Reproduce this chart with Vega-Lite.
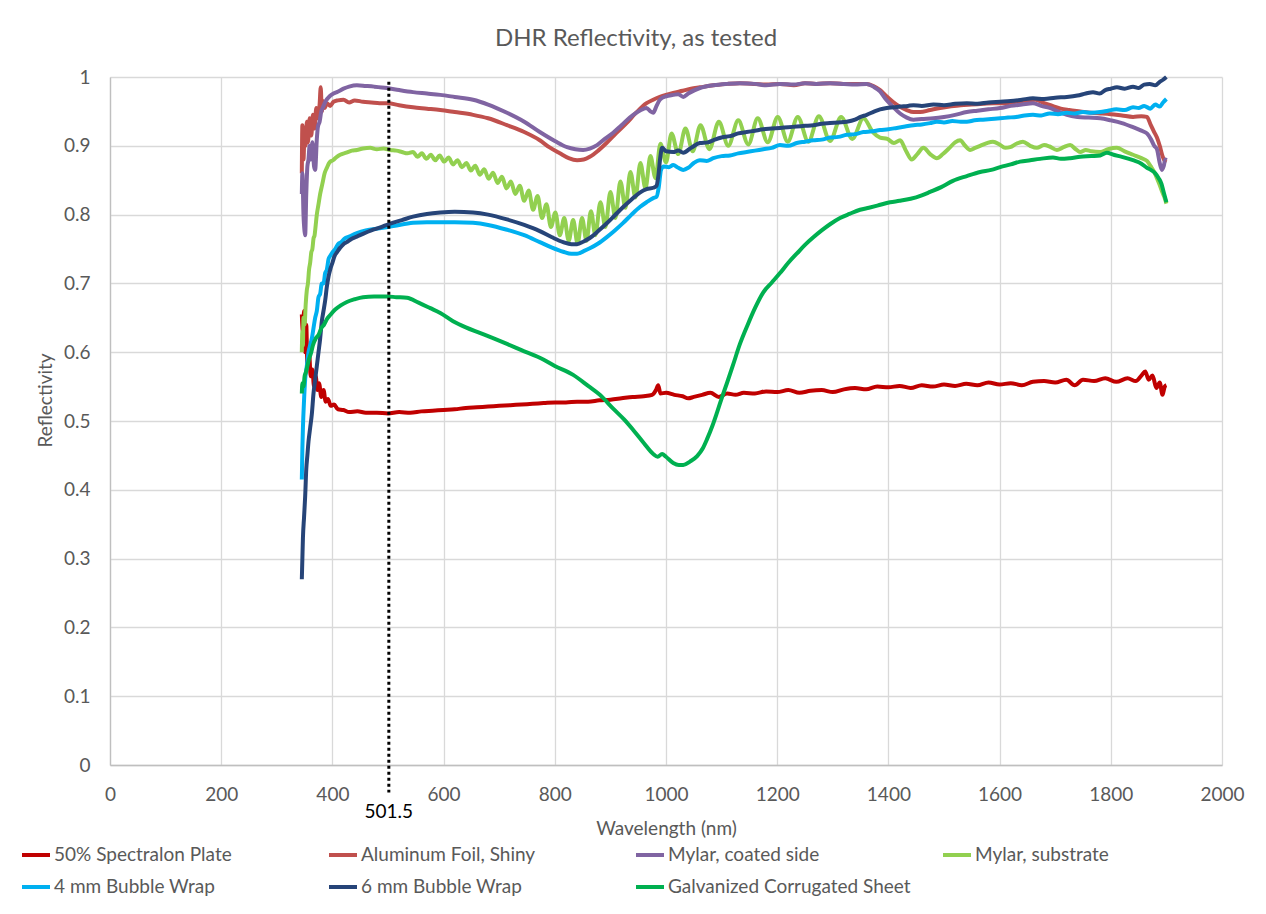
{
  "$schema": "https://vega.github.io/schema/vega-lite/v6.json",
  "width": 1112,
  "height": 688,
  "autosize": {"type": "none"},
  "padding": {"left": 110, "top": 77, "right": 44, "bottom": 149},
  "background": "white",
  "title": {"text": "DHR Reflectivity, as tested", "anchor": "middle", "dx": -30, "offset": 17, "font": "Lato", "fontSize": 24, "fontWeight": "normal", "color": "#595959"},
  "config": {"view": {"stroke": null}},
  "datasets": {
    "names": [
      {"k": "S", "name": "50% Spectralon Plate"},
      {"k": "A", "name": "Aluminum Foil, Shiny"},
      {"k": "M", "name": "Mylar, coated side"},
      {"k": "U", "name": "Mylar, substrate"},
      {"k": "B4", "name": "4 mm Bubble Wrap"},
      {"k": "B6", "name": "6 mm Bubble Wrap"},
      {"k": "G", "name": "Galvanized Corrugated Sheet"}
    ],
    "marker": [{"w": 501.5, "top": 0.993, "bot": -0.04, "lab": -0.068}],
    "spectra": [
      {"k":"S","w":345,"r":0.655},{"k":"S","w":347,"r":0.63},{"k":"S","w":349,"r":0.66},{"k":"S","w":351,"r":0.6},{"k":"S","w":353,"r":0.64},{"k":"S","w":355,"r":0.58},{"k":"S","w":358,"r":0.6},{"k":"S","w":361,"r":0.565},{"k":"S","w":364,"r":0.575},{"k":"S","w":367,"r":0.55},{"k":"S","w":370,"r":0.565},{"k":"S","w":373,"r":0.545},{"k":"S","w":376,"r":0.555},{"k":"S","w":380,"r":0.535},{"k":"S","w":384,"r":0.545},{"k":"S","w":388,"r":0.528},{"k":"S","w":392,"r":0.532},{"k":"S","w":397,"r":0.522},{"k":"S","w":403,"r":0.524},{"k":"S","w":410,"r":0.517},{"k":"S","w":420,"r":0.516},{"k":"S","w":430,"r":0.513},{"k":"S","w":445,"r":0.514},{"k":"S","w":460,"r":0.512},{"k":"S","w":480,"r":0.512},{"k":"S","w":500,"r":0.511},{"k":"S","w":520,"r":0.513},{"k":"S","w":540,"r":0.512},{"k":"S","w":560,"r":0.514},{"k":"S","w":580,"r":0.515},{"k":"S","w":600,"r":0.516},{"k":"S","w":620,"r":0.517},{"k":"S","w":640,"r":0.519},{"k":"S","w":660,"r":0.52},{"k":"S","w":680,"r":0.521},{"k":"S","w":700,"r":0.522},{"k":"S","w":720,"r":0.523},{"k":"S","w":740,"r":0.524},{"k":"S","w":760,"r":0.525},{"k":"S","w":780,"r":0.526},{"k":"S","w":800,"r":0.527},{"k":"S","w":820,"r":0.527},{"k":"S","w":840,"r":0.528},{"k":"S","w":860,"r":0.528},{"k":"S","w":880,"r":0.53},{"k":"S","w":900,"r":0.531},{"k":"S","w":920,"r":0.533},{"k":"S","w":940,"r":0.535},{"k":"S","w":960,"r":0.536},{"k":"S","w":975,"r":0.538},{"k":"S","w":982,"r":0.545},{"k":"S","w":986,"r":0.552},{"k":"S","w":990,"r":0.54},{"k":"S","w":1000,"r":0.541},{"k":"S","w":1015,"r":0.538},{"k":"S","w":1030,"r":0.536},{"k":"S","w":1040,"r":0.533},{"k":"S","w":1050,"r":0.535},{"k":"S","w":1065,"r":0.538},{"k":"S","w":1080,"r":0.541},{"k":"S","w":1095,"r":0.535},{"k":"S","w":1110,"r":0.54},{"k":"S","w":1125,"r":0.538},{"k":"S","w":1140,"r":0.541},{"k":"S","w":1160,"r":0.54},{"k":"S","w":1180,"r":0.543},{"k":"S","w":1200,"r":0.542},{"k":"S","w":1220,"r":0.545},{"k":"S","w":1240,"r":0.541},{"k":"S","w":1260,"r":0.544},{"k":"S","w":1280,"r":0.545},{"k":"S","w":1300,"r":0.542},{"k":"S","w":1320,"r":0.546},{"k":"S","w":1340,"r":0.548},{"k":"S","w":1360,"r":0.546},{"k":"S","w":1380,"r":0.55},{"k":"S","w":1400,"r":0.549},{"k":"S","w":1420,"r":0.551},{"k":"S","w":1440,"r":0.548},{"k":"S","w":1460,"r":0.552},{"k":"S","w":1480,"r":0.55},{"k":"S","w":1500,"r":0.553},{"k":"S","w":1520,"r":0.551},{"k":"S","w":1540,"r":0.554},{"k":"S","w":1560,"r":0.552},{"k":"S","w":1580,"r":0.556},{"k":"S","w":1600,"r":0.553},{"k":"S","w":1620,"r":0.555},{"k":"S","w":1640,"r":0.552},{"k":"S","w":1660,"r":0.557},{"k":"S","w":1680,"r":0.558},{"k":"S","w":1700,"r":0.556},{"k":"S","w":1720,"r":0.56},{"k":"S","w":1735,"r":0.552},{"k":"S","w":1750,"r":0.56},{"k":"S","w":1770,"r":0.558},{"k":"S","w":1790,"r":0.562},{"k":"S","w":1810,"r":0.557},{"k":"S","w":1830,"r":0.562},{"k":"S","w":1845,"r":0.558},{"k":"S","w":1855,"r":0.566},{"k":"S","w":1862,"r":0.572},{"k":"S","w":1868,"r":0.56},{"k":"S","w":1875,"r":0.566},{"k":"S","w":1882,"r":0.548},{"k":"S","w":1888,"r":0.556},{"k":"S","w":1893,"r":0.538},{"k":"S","w":1897,"r":0.55},{"k":"S","w":1900,"r":0.552},

      {"k":"A","w":345,"r":0.86},{"k":"A","w":346,"r":0.93},{"k":"A","w":348,"r":0.88},{"k":"A","w":350,"r":0.92},{"k":"A","w":352,"r":0.9},{"k":"A","w":354,"r":0.935},{"k":"A","w":356,"r":0.905},{"k":"A","w":359,"r":0.94},{"k":"A","w":362,"r":0.915},{"k":"A","w":365,"r":0.945},{"k":"A","w":368,"r":0.925},{"k":"A","w":371,"r":0.955},{"k":"A","w":374,"r":0.94},{"k":"A","w":377,"r":0.96},{"k":"A","w":379,"r":0.985},{"k":"A","w":381,"r":0.95},{"k":"A","w":383,"r":0.965},{"k":"A","w":386,"r":0.955},{"k":"A","w":390,"r":0.962},{"k":"A","w":396,"r":0.958},{"k":"A","w":402,"r":0.964},{"k":"A","w":410,"r":0.966},{"k":"A","w":420,"r":0.967},{"k":"A","w":430,"r":0.963},{"k":"A","w":440,"r":0.966},{"k":"A","w":455,"r":0.964},{"k":"A","w":470,"r":0.963},{"k":"A","w":485,"r":0.962},{"k":"A","w":500,"r":0.962},{"k":"A","w":520,"r":0.959},{"k":"A","w":545,"r":0.956},{"k":"A","w":570,"r":0.954},{"k":"A","w":594,"r":0.952},{"k":"A","w":620,"r":0.949},{"k":"A","w":653,"r":0.945},{"k":"A","w":680,"r":0.94},{"k":"A","w":714,"r":0.93},{"k":"A","w":745,"r":0.92},{"k":"A","w":773,"r":0.908},{"k":"A","w":790,"r":0.898},{"k":"A","w":809,"r":0.889},{"k":"A","w":825,"r":0.882},{"k":"A","w":840,"r":0.879},{"k":"A","w":852,"r":0.88},{"k":"A","w":863,"r":0.884},{"k":"A","w":878,"r":0.893},{"k":"A","w":893,"r":0.904},{"k":"A","w":910,"r":0.918},{"k":"A","w":929,"r":0.933},{"k":"A","w":945,"r":0.947},{"k":"A","w":965,"r":0.962},{"k":"A","w":977,"r":0.967},{"k":"A","w":989,"r":0.971},{"k":"A","w":1000,"r":0.974},{"k":"A","w":1013,"r":0.977},{"k":"A","w":1030,"r":0.98},{"k":"A","w":1045,"r":0.983},{"k":"A","w":1061,"r":0.985},{"k":"A","w":1085,"r":0.988},{"k":"A","w":1110,"r":0.99},{"k":"A","w":1133,"r":0.991},{"k":"A","w":1160,"r":0.99},{"k":"A","w":1180,"r":0.989},{"k":"A","w":1205,"r":0.99},{"k":"A","w":1230,"r":0.988},{"k":"A","w":1250,"r":0.991},{"k":"A","w":1270,"r":0.99},{"k":"A","w":1295,"r":0.991},{"k":"A","w":1320,"r":0.99},{"k":"A","w":1340,"r":0.99},{"k":"A","w":1361,"r":0.99},{"k":"A","w":1373,"r":0.987},{"k":"A","w":1385,"r":0.981},{"k":"A","w":1395,"r":0.973},{"k":"A","w":1408,"r":0.964},{"k":"A","w":1420,"r":0.957},{"k":"A","w":1433,"r":0.952},{"k":"A","w":1445,"r":0.949},{"k":"A","w":1457,"r":0.949},{"k":"A","w":1475,"r":0.952},{"k":"A","w":1493,"r":0.955},{"k":"A","w":1510,"r":0.957},{"k":"A","w":1530,"r":0.959},{"k":"A","w":1550,"r":0.96},{"k":"A","w":1570,"r":0.961},{"k":"A","w":1590,"r":0.962},{"k":"A","w":1610,"r":0.962},{"k":"A","w":1630,"r":0.964},{"k":"A","w":1650,"r":0.966},{"k":"A","w":1665,"r":0.967},{"k":"A","w":1680,"r":0.962},{"k":"A","w":1695,"r":0.958},{"k":"A","w":1710,"r":0.954},{"k":"A","w":1725,"r":0.952},{"k":"A","w":1745,"r":0.95},{"k":"A","w":1765,"r":0.948},{"k":"A","w":1785,"r":0.947},{"k":"A","w":1800,"r":0.946},{"k":"A","w":1820,"r":0.944},{"k":"A","w":1840,"r":0.942},{"k":"A","w":1855,"r":0.943},{"k":"A","w":1865,"r":0.942},{"k":"A","w":1872,"r":0.93},{"k":"A","w":1878,"r":0.92},{"k":"A","w":1883,"r":0.912},{"k":"A","w":1888,"r":0.9},{"k":"A","w":1893,"r":0.885},{"k":"A","w":1897,"r":0.878},{"k":"A","w":1900,"r":0.876},

      {"k":"M","w":345,"r":0.83},{"k":"M","w":346,"r":0.86},{"k":"M","w":348,"r":0.8},{"k":"M","w":350,"r":0.775},{"k":"M","w":351,"r":0.77},{"k":"M","w":353,"r":0.83},{"k":"M","w":355,"r":0.87},{"k":"M","w":357,"r":0.88},{"k":"M","w":359,"r":0.9},{"k":"M","w":361,"r":0.88},{"k":"M","w":364,"r":0.905},{"k":"M","w":367,"r":0.87},{"k":"M","w":369,"r":0.865},{"k":"M","w":372,"r":0.91},{"k":"M","w":374,"r":0.928},{"k":"M","w":377,"r":0.935},{"k":"M","w":380,"r":0.95},{"k":"M","w":383,"r":0.956},{"k":"M","w":388,"r":0.965},{"k":"M","w":395,"r":0.972},{"k":"M","w":402,"r":0.976},{"k":"M","w":408,"r":0.978},{"k":"M","w":420,"r":0.983},{"k":"M","w":430,"r":0.986},{"k":"M","w":444,"r":0.988},{"k":"M","w":460,"r":0.987},{"k":"M","w":475,"r":0.986},{"k":"M","w":498,"r":0.984},{"k":"M","w":520,"r":0.981},{"k":"M","w":545,"r":0.978},{"k":"M","w":570,"r":0.976},{"k":"M","w":594,"r":0.974},{"k":"M","w":620,"r":0.971},{"k":"M","w":653,"r":0.967},{"k":"M","w":680,"r":0.96},{"k":"M","w":714,"r":0.948},{"k":"M","w":745,"r":0.935},{"k":"M","w":773,"r":0.92},{"k":"M","w":800,"r":0.907},{"k":"M","w":822,"r":0.898},{"k":"M","w":837,"r":0.895},{"k":"M","w":851,"r":0.894},{"k":"M","w":863,"r":0.896},{"k":"M","w":876,"r":0.901},{"k":"M","w":890,"r":0.91},{"k":"M","w":905,"r":0.919},{"k":"M","w":920,"r":0.93},{"k":"M","w":941,"r":0.945},{"k":"M","w":955,"r":0.952},{"k":"M","w":965,"r":0.955},{"k":"M","w":972,"r":0.95},{"k":"M","w":977,"r":0.948},{"k":"M","w":983,"r":0.958},{"k":"M","w":989,"r":0.967},{"k":"M","w":1000,"r":0.972},{"k":"M","w":1013,"r":0.974},{"k":"M","w":1022,"r":0.975},{"k":"M","w":1031,"r":0.971},{"k":"M","w":1040,"r":0.976},{"k":"M","w":1061,"r":0.984},{"k":"M","w":1085,"r":0.988},{"k":"M","w":1110,"r":0.99},{"k":"M","w":1133,"r":0.991},{"k":"M","w":1160,"r":0.99},{"k":"M","w":1180,"r":0.988},{"k":"M","w":1205,"r":0.99},{"k":"M","w":1230,"r":0.989},{"k":"M","w":1250,"r":0.991},{"k":"M","w":1270,"r":0.99},{"k":"M","w":1295,"r":0.991},{"k":"M","w":1320,"r":0.99},{"k":"M","w":1340,"r":0.989},{"k":"M","w":1361,"r":0.99},{"k":"M","w":1373,"r":0.986},{"k":"M","w":1385,"r":0.979},{"k":"M","w":1395,"r":0.968},{"k":"M","w":1408,"r":0.957},{"k":"M","w":1421,"r":0.947},{"k":"M","w":1433,"r":0.941},{"k":"M","w":1445,"r":0.938},{"k":"M","w":1460,"r":0.939},{"k":"M","w":1481,"r":0.94},{"k":"M","w":1500,"r":0.942},{"k":"M","w":1520,"r":0.945},{"k":"M","w":1541,"r":0.949},{"k":"M","w":1560,"r":0.951},{"k":"M","w":1580,"r":0.953},{"k":"M","w":1601,"r":0.955},{"k":"M","w":1620,"r":0.958},{"k":"M","w":1640,"r":0.96},{"k":"M","w":1660,"r":0.962},{"k":"M","w":1675,"r":0.958},{"k":"M","w":1690,"r":0.955},{"k":"M","w":1705,"r":0.95},{"k":"M","w":1721,"r":0.945},{"k":"M","w":1740,"r":0.942},{"k":"M","w":1760,"r":0.941},{"k":"M","w":1781,"r":0.94},{"k":"M","w":1800,"r":0.937},{"k":"M","w":1820,"r":0.933},{"k":"M","w":1840,"r":0.927},{"k":"M","w":1855,"r":0.922},{"k":"M","w":1865,"r":0.918},{"k":"M","w":1872,"r":0.91},{"k":"M","w":1878,"r":0.9},{"k":"M","w":1883,"r":0.895},{"k":"M","w":1888,"r":0.875},{"k":"M","w":1892,"r":0.865},{"k":"M","w":1895,"r":0.87},{"k":"M","w":1898,"r":0.88},{"k":"M","w":1900,"r":0.879},

      {"k":"U","w":345,"r":0.6},{"k":"U","w":346,"r":0.63},{"k":"U","w":347,"r":0.61},{"k":"U","w":348,"r":0.65},{"k":"U","w":350,"r":0.64},{"k":"U","w":352,"r":0.67},{"k":"U","w":354,"r":0.69},{"k":"U","w":356,"r":0.7},{"k":"U","w":358,"r":0.72},{"k":"U","w":360,"r":0.73},{"k":"U","w":362,"r":0.745},{"k":"U","w":364,"r":0.75},{"k":"U","w":366,"r":0.765},{"k":"U","w":368,"r":0.77},{"k":"U","w":370,"r":0.785},{"k":"U","w":372,"r":0.8},{"k":"U","w":375,"r":0.815},{"k":"U","w":378,"r":0.83},{"k":"U","w":382,"r":0.845},{"k":"U","w":386,"r":0.86},{"k":"U","w":390,"r":0.868},{"k":"U","w":395,"r":0.876},{"k":"U","w":401,"r":0.879},{"k":"U","w":408,"r":0.884},{"k":"U","w":414,"r":0.887},{"k":"U","w":425,"r":0.89},{"k":"U","w":435,"r":0.893},{"k":"U","w":444,"r":0.894},{"k":"U","w":455,"r":0.896},{"k":"U","w":468,"r":0.897},{"k":"U","w":480,"r":0.895},{"k":"U","w":492,"r":0.896},{"k":"U","w":504,"r":0.894},{"k":"U","w":515,"r":0.893},{"k":"U","w":525,"r":0.891},{"k":"U","w":535,"r":0.889},{"k":"U","w":545,"r":0.891},{"k":"U","w":553,"r":0.884},{"k":"U","w":561,"r":0.889},{"k":"U","w":569,"r":0.881},{"k":"U","w":577,"r":0.887},{"k":"U","w":585,"r":0.879},{"k":"U","w":593,"r":0.886},{"k":"U","w":601,"r":0.877},{"k":"U","w":609,"r":0.883},{"k":"U","w":617,"r":0.873},{"k":"U","w":625,"r":0.879},{"k":"U","w":633,"r":0.869},{"k":"U","w":641,"r":0.875},{"k":"U","w":649,"r":0.864},{"k":"U","w":657,"r":0.871},{"k":"U","w":665,"r":0.858},{"k":"U","w":673,"r":0.866},{"k":"U","w":681,"r":0.852},{"k":"U","w":689,"r":0.861},{"k":"U","w":697,"r":0.846},{"k":"U","w":705,"r":0.855},{"k":"U","w":713,"r":0.838},{"k":"U","w":721,"r":0.848},{"k":"U","w":729,"r":0.83},{"k":"U","w":737,"r":0.842},{"k":"U","w":745,"r":0.82},{"k":"U","w":753,"r":0.835},{"k":"U","w":761,"r":0.807},{"k":"U","w":769,"r":0.827},{"k":"U","w":777,"r":0.795},{"k":"U","w":785,"r":0.815},{"k":"U","w":793,"r":0.782},{"k":"U","w":801,"r":0.803},{"k":"U","w":809,"r":0.77},{"k":"U","w":817,"r":0.795},{"k":"U","w":825,"r":0.762},{"k":"U","w":833,"r":0.792},{"k":"U","w":841,"r":0.758},{"k":"U","w":849,"r":0.795},{"k":"U","w":857,"r":0.762},{"k":"U","w":865,"r":0.805},{"k":"U","w":873,"r":0.77},{"k":"U","w":882,"r":0.818},{"k":"U","w":891,"r":0.782},{"k":"U","w":900,"r":0.833},{"k":"U","w":909,"r":0.795},{"k":"U","w":918,"r":0.848},{"k":"U","w":927,"r":0.81},{"k":"U","w":936,"r":0.862},{"k":"U","w":945,"r":0.825},{"k":"U","w":954,"r":0.875},{"k":"U","w":963,"r":0.838},{"k":"U","w":972,"r":0.885},{"k":"U","w":981,"r":0.853},{"k":"U","w":990,"r":0.903},{"k":"U","w":1000,"r":0.876},{"k":"U","w":1010,"r":0.918},{"k":"U","w":1022,"r":0.888},{"k":"U","w":1035,"r":0.925},{"k":"U","w":1048,"r":0.892},{"k":"U","w":1062,"r":0.93},{"k":"U","w":1078,"r":0.895},{"k":"U","w":1095,"r":0.935},{"k":"U","w":1112,"r":0.9},{"k":"U","w":1130,"r":0.937},{"k":"U","w":1148,"r":0.902},{"k":"U","w":1165,"r":0.94},{"k":"U","w":1183,"r":0.905},{"k":"U","w":1201,"r":0.942},{"k":"U","w":1219,"r":0.906},{"k":"U","w":1237,"r":0.942},{"k":"U","w":1256,"r":0.906},{"k":"U","w":1275,"r":0.943},{"k":"U","w":1295,"r":0.907},{"k":"U","w":1315,"r":0.942},{"k":"U","w":1335,"r":0.91},{"k":"U","w":1355,"r":0.94},{"k":"U","w":1372,"r":0.92},{"k":"U","w":1385,"r":0.912},{"k":"U","w":1398,"r":0.91},{"k":"U","w":1410,"r":0.904},{"k":"U","w":1421,"r":0.908},{"k":"U","w":1432,"r":0.892},{"k":"U","w":1442,"r":0.88},{"k":"U","w":1452,"r":0.888},{"k":"U","w":1463,"r":0.897},{"k":"U","w":1475,"r":0.888},{"k":"U","w":1487,"r":0.882},{"k":"U","w":1498,"r":0.888},{"k":"U","w":1510,"r":0.897},{"k":"U","w":1520,"r":0.905},{"k":"U","w":1529,"r":0.908},{"k":"U","w":1538,"r":0.9},{"k":"U","w":1547,"r":0.894},{"k":"U","w":1556,"r":0.897},{"k":"U","w":1565,"r":0.9},{"k":"U","w":1577,"r":0.904},{"k":"U","w":1588,"r":0.906},{"k":"U","w":1600,"r":0.902},{"k":"U","w":1610,"r":0.897},{"k":"U","w":1619,"r":0.898},{"k":"U","w":1630,"r":0.903},{"k":"U","w":1642,"r":0.906},{"k":"U","w":1655,"r":0.9},{"k":"U","w":1667,"r":0.897},{"k":"U","w":1680,"r":0.901},{"k":"U","w":1690,"r":0.899},{"k":"U","w":1703,"r":0.894},{"k":"U","w":1715,"r":0.898},{"k":"U","w":1727,"r":0.901},{"k":"U","w":1737,"r":0.895},{"k":"U","w":1745,"r":0.891},{"k":"U","w":1755,"r":0.894},{"k":"U","w":1765,"r":0.892},{"k":"U","w":1781,"r":0.891},{"k":"U","w":1795,"r":0.895},{"k":"U","w":1811,"r":0.897},{"k":"U","w":1825,"r":0.892},{"k":"U","w":1840,"r":0.887},{"k":"U","w":1855,"r":0.882},{"k":"U","w":1865,"r":0.878},{"k":"U","w":1872,"r":0.87},{"k":"U","w":1878,"r":0.862},{"k":"U","w":1883,"r":0.853},{"k":"U","w":1888,"r":0.843},{"k":"U","w":1893,"r":0.832},{"k":"U","w":1897,"r":0.824},{"k":"U","w":1900,"r":0.816},

      {"k":"B4","w":345,"r":0.415},{"k":"B4","w":346,"r":0.46},{"k":"B4","w":347,"r":0.49},{"k":"B4","w":349,"r":0.53},{"k":"B4","w":351,"r":0.56},{"k":"B4","w":354,"r":0.58},{"k":"B4","w":357,"r":0.6},{"k":"B4","w":360,"r":0.61},{"k":"B4","w":363,"r":0.62},{"k":"B4","w":366,"r":0.635},{"k":"B4","w":369,"r":0.65},{"k":"B4","w":372,"r":0.66},{"k":"B4","w":375,"r":0.68},{"k":"B4","w":378,"r":0.685},{"k":"B4","w":381,"r":0.7},{"k":"B4","w":384,"r":0.7},{"k":"B4","w":387,"r":0.715},{"k":"B4","w":390,"r":0.72},{"k":"B4","w":393,"r":0.735},{"k":"B4","w":396,"r":0.74},{"k":"B4","w":400,"r":0.745},{"k":"B4","w":405,"r":0.75},{"k":"B4","w":410,"r":0.757},{"k":"B4","w":416,"r":0.76},{"k":"B4","w":422,"r":0.765},{"k":"B4","w":430,"r":0.768},{"k":"B4","w":444,"r":0.773},{"k":"B4","w":460,"r":0.777},{"k":"B4","w":485,"r":0.78},{"k":"B4","w":500,"r":0.782},{"k":"B4","w":520,"r":0.785},{"k":"B4","w":545,"r":0.788},{"k":"B4","w":570,"r":0.789},{"k":"B4","w":594,"r":0.789},{"k":"B4","w":620,"r":0.789},{"k":"B4","w":653,"r":0.788},{"k":"B4","w":680,"r":0.785},{"k":"B4","w":714,"r":0.778},{"k":"B4","w":745,"r":0.77},{"k":"B4","w":773,"r":0.76},{"k":"B4","w":795,"r":0.752},{"k":"B4","w":815,"r":0.746},{"k":"B4","w":830,"r":0.743},{"k":"B4","w":840,"r":0.743},{"k":"B4","w":852,"r":0.747},{"k":"B4","w":863,"r":0.751},{"k":"B4","w":878,"r":0.758},{"k":"B4","w":893,"r":0.767},{"k":"B4","w":908,"r":0.777},{"k":"B4","w":923,"r":0.788},{"k":"B4","w":938,"r":0.8},{"k":"B4","w":953,"r":0.811},{"k":"B4","w":965,"r":0.818},{"k":"B4","w":977,"r":0.824},{"k":"B4","w":983,"r":0.826},{"k":"B4","w":987,"r":0.84},{"k":"B4","w":991,"r":0.865},{"k":"B4","w":996,"r":0.87},{"k":"B4","w":1005,"r":0.869},{"k":"B4","w":1013,"r":0.872},{"k":"B4","w":1022,"r":0.868},{"k":"B4","w":1031,"r":0.865},{"k":"B4","w":1040,"r":0.868},{"k":"B4","w":1050,"r":0.875},{"k":"B4","w":1061,"r":0.879},{"k":"B4","w":1073,"r":0.878},{"k":"B4","w":1085,"r":0.882},{"k":"B4","w":1100,"r":0.885},{"k":"B4","w":1115,"r":0.886},{"k":"B4","w":1130,"r":0.889},{"k":"B4","w":1145,"r":0.891},{"k":"B4","w":1160,"r":0.893},{"k":"B4","w":1175,"r":0.895},{"k":"B4","w":1190,"r":0.897},{"k":"B4","w":1205,"r":0.901},{"k":"B4","w":1220,"r":0.9},{"k":"B4","w":1235,"r":0.904},{"k":"B4","w":1250,"r":0.906},{"k":"B4","w":1265,"r":0.908},{"k":"B4","w":1280,"r":0.909},{"k":"B4","w":1295,"r":0.912},{"k":"B4","w":1310,"r":0.913},{"k":"B4","w":1325,"r":0.916},{"k":"B4","w":1340,"r":0.917},{"k":"B4","w":1355,"r":0.92},{"k":"B4","w":1370,"r":0.921},{"k":"B4","w":1385,"r":0.923},{"k":"B4","w":1400,"r":0.924},{"k":"B4","w":1415,"r":0.926},{"k":"B4","w":1430,"r":0.928},{"k":"B4","w":1445,"r":0.93},{"k":"B4","w":1460,"r":0.931},{"k":"B4","w":1475,"r":0.933},{"k":"B4","w":1487,"r":0.935},{"k":"B4","w":1500,"r":0.934},{"k":"B4","w":1515,"r":0.936},{"k":"B4","w":1530,"r":0.935},{"k":"B4","w":1541,"r":0.935},{"k":"B4","w":1555,"r":0.937},{"k":"B4","w":1570,"r":0.938},{"k":"B4","w":1585,"r":0.939},{"k":"B4","w":1601,"r":0.94},{"k":"B4","w":1615,"r":0.941},{"k":"B4","w":1630,"r":0.942},{"k":"B4","w":1645,"r":0.944},{"k":"B4","w":1660,"r":0.945},{"k":"B4","w":1675,"r":0.944},{"k":"B4","w":1690,"r":0.947},{"k":"B4","w":1705,"r":0.946},{"k":"B4","w":1721,"r":0.948},{"k":"B4","w":1735,"r":0.947},{"k":"B4","w":1750,"r":0.949},{"k":"B4","w":1765,"r":0.948},{"k":"B4","w":1781,"r":0.949},{"k":"B4","w":1795,"r":0.951},{"k":"B4","w":1810,"r":0.953},{"k":"B4","w":1825,"r":0.952},{"k":"B4","w":1840,"r":0.956},{"k":"B4","w":1850,"r":0.955},{"k":"B4","w":1860,"r":0.958},{"k":"B4","w":1871,"r":0.954},{"k":"B4","w":1880,"r":0.96},{"k":"B4","w":1888,"r":0.957},{"k":"B4","w":1894,"r":0.963},{"k":"B4","w":1900,"r":0.968},

      {"k":"B6","w":345,"r":0.27},{"k":"B6","w":346,"r":0.3},{"k":"B6","w":347,"r":0.33},{"k":"B6","w":349,"r":0.36},{"k":"B6","w":351,"r":0.39},{"k":"B6","w":353,"r":0.43},{"k":"B6","w":355,"r":0.45},{"k":"B6","w":357,"r":0.47},{"k":"B6","w":360,"r":0.49},{"k":"B6","w":363,"r":0.51},{"k":"B6","w":366,"r":0.54},{"k":"B6","w":369,"r":0.56},{"k":"B6","w":372,"r":0.58},{"k":"B6","w":375,"r":0.6},{"k":"B6","w":378,"r":0.62},{"k":"B6","w":381,"r":0.645},{"k":"B6","w":384,"r":0.66},{"k":"B6","w":387,"r":0.675},{"k":"B6","w":390,"r":0.695},{"k":"B6","w":393,"r":0.71},{"k":"B6","w":396,"r":0.72},{"k":"B6","w":400,"r":0.73},{"k":"B6","w":404,"r":0.74},{"k":"B6","w":408,"r":0.745},{"k":"B6","w":414,"r":0.752},{"k":"B6","w":420,"r":0.757},{"k":"B6","w":426,"r":0.76},{"k":"B6","w":435,"r":0.765},{"k":"B6","w":444,"r":0.768},{"k":"B6","w":455,"r":0.772},{"k":"B6","w":470,"r":0.777},{"k":"B6","w":485,"r":0.781},{"k":"B6","w":504,"r":0.787},{"k":"B6","w":525,"r":0.792},{"k":"B6","w":545,"r":0.797},{"k":"B6","w":570,"r":0.801},{"k":"B6","w":594,"r":0.803},{"k":"B6","w":620,"r":0.804},{"k":"B6","w":653,"r":0.803},{"k":"B6","w":680,"r":0.8},{"k":"B6","w":714,"r":0.793},{"k":"B6","w":745,"r":0.785},{"k":"B6","w":773,"r":0.776},{"k":"B6","w":795,"r":0.767},{"k":"B6","w":815,"r":0.76},{"k":"B6","w":830,"r":0.757},{"k":"B6","w":840,"r":0.757},{"k":"B6","w":852,"r":0.761},{"k":"B6","w":863,"r":0.766},{"k":"B6","w":878,"r":0.776},{"k":"B6","w":893,"r":0.787},{"k":"B6","w":908,"r":0.799},{"k":"B6","w":923,"r":0.811},{"k":"B6","w":938,"r":0.822},{"k":"B6","w":953,"r":0.832},{"k":"B6","w":965,"r":0.837},{"k":"B6","w":977,"r":0.839},{"k":"B6","w":983,"r":0.842},{"k":"B6","w":986,"r":0.855},{"k":"B6","w":990,"r":0.885},{"k":"B6","w":993,"r":0.897},{"k":"B6","w":1000,"r":0.892},{"k":"B6","w":1013,"r":0.891},{"k":"B6","w":1022,"r":0.893},{"k":"B6","w":1031,"r":0.89},{"k":"B6","w":1045,"r":0.897},{"k":"B6","w":1061,"r":0.904},{"k":"B6","w":1075,"r":0.905},{"k":"B6","w":1085,"r":0.908},{"k":"B6","w":1100,"r":0.912},{"k":"B6","w":1115,"r":0.914},{"k":"B6","w":1130,"r":0.918},{"k":"B6","w":1145,"r":0.92},{"k":"B6","w":1160,"r":0.922},{"k":"B6","w":1175,"r":0.924},{"k":"B6","w":1190,"r":0.925},{"k":"B6","w":1205,"r":0.926},{"k":"B6","w":1220,"r":0.927},{"k":"B6","w":1235,"r":0.928},{"k":"B6","w":1250,"r":0.929},{"k":"B6","w":1265,"r":0.93},{"k":"B6","w":1280,"r":0.932},{"k":"B6","w":1295,"r":0.933},{"k":"B6","w":1310,"r":0.934},{"k":"B6","w":1325,"r":0.935},{"k":"B6","w":1340,"r":0.938},{"k":"B6","w":1350,"r":0.942},{"k":"B6","w":1361,"r":0.945},{"k":"B6","w":1375,"r":0.95},{"k":"B6","w":1385,"r":0.953},{"k":"B6","w":1397,"r":0.955},{"k":"B6","w":1410,"r":0.956},{"k":"B6","w":1421,"r":0.957},{"k":"B6","w":1435,"r":0.958},{"k":"B6","w":1445,"r":0.959},{"k":"B6","w":1460,"r":0.958},{"k":"B6","w":1481,"r":0.96},{"k":"B6","w":1500,"r":0.959},{"k":"B6","w":1520,"r":0.961},{"k":"B6","w":1541,"r":0.962},{"k":"B6","w":1560,"r":0.961},{"k":"B6","w":1580,"r":0.963},{"k":"B6","w":1601,"r":0.964},{"k":"B6","w":1620,"r":0.965},{"k":"B6","w":1640,"r":0.967},{"k":"B6","w":1660,"r":0.969},{"k":"B6","w":1680,"r":0.968},{"k":"B6","w":1700,"r":0.97},{"k":"B6","w":1721,"r":0.971},{"k":"B6","w":1740,"r":0.973},{"k":"B6","w":1755,"r":0.976},{"k":"B6","w":1768,"r":0.978},{"k":"B6","w":1780,"r":0.976},{"k":"B6","w":1790,"r":0.981},{"k":"B6","w":1800,"r":0.983},{"k":"B6","w":1811,"r":0.985},{"k":"B6","w":1825,"r":0.983},{"k":"B6","w":1840,"r":0.986},{"k":"B6","w":1850,"r":0.984},{"k":"B6","w":1860,"r":0.989},{"k":"B6","w":1870,"r":0.99},{"k":"B6","w":1880,"r":0.988},{"k":"B6","w":1888,"r":0.993},{"k":"B6","w":1894,"r":0.996},{"k":"B6","w":1900,"r":1.0},

      {"k":"G","w":345,"r":0.54},{"k":"G","w":346,"r":0.555},{"k":"G","w":348,"r":0.55},{"k":"G","w":350,"r":0.565},{"k":"G","w":352,"r":0.57},{"k":"G","w":355,"r":0.58},{"k":"G","w":358,"r":0.59},{"k":"G","w":362,"r":0.6},{"k":"G","w":365,"r":0.61},{"k":"G","w":370,"r":0.62},{"k":"G","w":375,"r":0.625},{"k":"G","w":380,"r":0.635},{"k":"G","w":385,"r":0.64},{"k":"G","w":390,"r":0.648},{"k":"G","w":396,"r":0.654},{"k":"G","w":405,"r":0.662},{"k":"G","w":415,"r":0.668},{"k":"G","w":426,"r":0.673},{"k":"G","w":440,"r":0.677},{"k":"G","w":455,"r":0.68},{"k":"G","w":475,"r":0.681},{"k":"G","w":498,"r":0.681},{"k":"G","w":515,"r":0.68},{"k":"G","w":534,"r":0.679},{"k":"G","w":555,"r":0.672},{"k":"G","w":576,"r":0.664},{"k":"G","w":594,"r":0.657},{"k":"G","w":617,"r":0.645},{"k":"G","w":640,"r":0.636},{"k":"G","w":665,"r":0.628},{"k":"G","w":690,"r":0.62},{"k":"G","w":714,"r":0.612},{"k":"G","w":740,"r":0.603},{"k":"G","w":773,"r":0.592},{"k":"G","w":800,"r":0.58},{"k":"G","w":833,"r":0.567},{"k":"G","w":860,"r":0.551},{"k":"G","w":881,"r":0.538},{"k":"G","w":905,"r":0.518},{"k":"G","w":925,"r":0.502},{"k":"G","w":941,"r":0.487},{"k":"G","w":960,"r":0.468},{"k":"G","w":977,"r":0.452},{"k":"G","w":985,"r":0.448},{"k":"G","w":993,"r":0.452},{"k":"G","w":1000,"r":0.448},{"k":"G","w":1013,"r":0.439},{"k":"G","w":1023,"r":0.436},{"k":"G","w":1031,"r":0.436},{"k":"G","w":1043,"r":0.441},{"k":"G","w":1056,"r":0.449},{"k":"G","w":1066,"r":0.46},{"k":"G","w":1074,"r":0.474},{"k":"G","w":1083,"r":0.492},{"k":"G","w":1092,"r":0.513},{"k":"G","w":1101,"r":0.535},{"k":"G","w":1110,"r":0.556},{"k":"G","w":1120,"r":0.58},{"k":"G","w":1133,"r":0.612},{"k":"G","w":1147,"r":0.64},{"k":"G","w":1160,"r":0.664},{"k":"G","w":1175,"r":0.687},{"k":"G","w":1190,"r":0.701},{"k":"G","w":1205,"r":0.715},{"k":"G","w":1220,"r":0.73},{"k":"G","w":1236,"r":0.744},{"k":"G","w":1250,"r":0.756},{"k":"G","w":1265,"r":0.767},{"k":"G","w":1280,"r":0.777},{"k":"G","w":1295,"r":0.786},{"k":"G","w":1313,"r":0.795},{"k":"G","w":1330,"r":0.801},{"k":"G","w":1349,"r":0.807},{"k":"G","w":1365,"r":0.81},{"k":"G","w":1380,"r":0.813},{"k":"G","w":1403,"r":0.818},{"k":"G","w":1420,"r":0.82},{"k":"G","w":1440,"r":0.823},{"k":"G","w":1460,"r":0.828},{"k":"G","w":1475,"r":0.833},{"k":"G","w":1495,"r":0.84},{"k":"G","w":1516,"r":0.849},{"k":"G","w":1541,"r":0.856},{"k":"G","w":1565,"r":0.862},{"k":"G","w":1585,"r":0.865},{"k":"G","w":1601,"r":0.869},{"k":"G","w":1620,"r":0.873},{"k":"G","w":1637,"r":0.877},{"k":"G","w":1655,"r":0.879},{"k":"G","w":1673,"r":0.881},{"k":"G","w":1696,"r":0.883},{"k":"G","w":1710,"r":0.881},{"k":"G","w":1727,"r":0.882},{"k":"G","w":1745,"r":0.884},{"k":"G","w":1765,"r":0.885},{"k":"G","w":1781,"r":0.886},{"k":"G","w":1793,"r":0.89},{"k":"G","w":1805,"r":0.887},{"k":"G","w":1820,"r":0.884},{"k":"G","w":1840,"r":0.879},{"k":"G","w":1855,"r":0.874},{"k":"G","w":1865,"r":0.868},{"k":"G","w":1872,"r":0.865},{"k":"G","w":1880,"r":0.86},{"k":"G","w":1886,"r":0.853},{"k":"G","w":1891,"r":0.845},{"k":"G","w":1895,"r":0.833},{"k":"G","w":1900,"r":0.818}
    ]
  },
  "layer": [
    {
      "data": {"name": "spectra"},
      "transform": [{"lookup": "k", "from": {"data": {"name": "names"}, "key": "k", "fields": ["name"]}}],
      "mark": {"type": "line", "strokeWidth": 4, "strokeJoin": "round", "interpolate": "monotone"},
      "encoding": {
        "x": {
          "field": "w", "type": "quantitative",
          "scale": {"domain": [0, 2000], "nice": false},
          "axis": {
            "title": "Wavelength (nm)",
            "values": [0, 200, 400, 600, 800, 1000, 1200, 1400, 1600, 1800, 2000],
            "format": "d",
            "grid": true, "gridColor": "#d9d9d9", "gridWidth": 1.3,
            "domainColor": "#bfbfbf", "domainWidth": 1.3,
            "ticks": false, "labelFlush": false, "labelOverlap": false,
            "labelFont": "Lato", "labelFontSize": 19, "labelColor": "#595959", "labelPadding": 20,
            "titleFont": "Lato", "titleFontSize": 19, "titleFontWeight": "normal", "titleColor": "#595959",
            "titleX": 556, "titleY": 63, "titleBaseline": "middle"
          }
        },
        "y": {
          "field": "r", "type": "quantitative",
          "scale": {"domain": [0, 1], "nice": false},
          "axis": {
            "title": "Reflectivity",
            "values": [0, 0.1, 0.2, 0.3, 0.4, 0.5, 0.6, 0.7, 0.8, 0.9, 1],
            "format": "~g",
            "grid": true, "gridColor": "#d9d9d9", "gridWidth": 1.3,
            "domainColor": "#bfbfbf", "domainWidth": 1.3,
            "ticks": false, "labelFlush": false, "labelOverlap": false,
            "labelFont": "Lato", "labelFontSize": 19, "labelColor": "#595959", "labelPadding": 20,
            "titleFont": "Lato", "titleFontSize": 19, "titleFontWeight": "normal", "titleColor": "#595959",
            "titleAngle": -90, "titleX": -65, "titleY": 323, "titleAlign": "center", "titleBaseline": "middle"
          }
        },
        "color": {
          "field": "name", "type": "nominal",
          "scale": {
            "domain": ["50% Spectralon Plate", "Aluminum Foil, Shiny", "Mylar, coated side", "Mylar, substrate", "4 mm Bubble Wrap", "6 mm Bubble Wrap", "Galvanized Corrugated Sheet"],
            "range": ["#C00000", "#C0504D", "#8064A2", "#92D050", "#00B0F0", "#264478", "#00B050"]
          },
          "legend": {
            "title": null, "orient": "none", "legendX": -90, "legendY": 762,
            "columns": 4, "direction": "horizontal", "gridAlign": "all",
            "columnPadding": 24, "rowPadding": 6, "padding": 0,
            "symbolType": "stroke", "symbolSize": 784, "symbolStrokeWidth": 4,
            "labelFont": "Lato", "labelFontSize": 19, "labelColor": "#595959", "labelOffset": 2, "labelLimit": 400
          }
        }
      }
    },
    {
      "data": {"name": "marker"},
      "mark": {"type": "rule", "color": "black", "strokeWidth": 3, "strokeDash": [3, 3]},
      "encoding": {
        "x": {"field": "w", "type": "quantitative"},
        "y": {"field": "top", "type": "quantitative"},
        "y2": {"field": "bot"}
      }
    },
    {
      "data": {"name": "marker"},
      "mark": {"type": "text", "font": "Lato", "fontSize": 19, "color": "black", "baseline": "middle", "align": "center"},
      "encoding": {
        "x": {"field": "w", "type": "quantitative"},
        "y": {"field": "lab", "type": "quantitative"},
        "text": {"field": "w", "type": "quantitative", "format": ".1f"}
      }
    }
  ]
}
